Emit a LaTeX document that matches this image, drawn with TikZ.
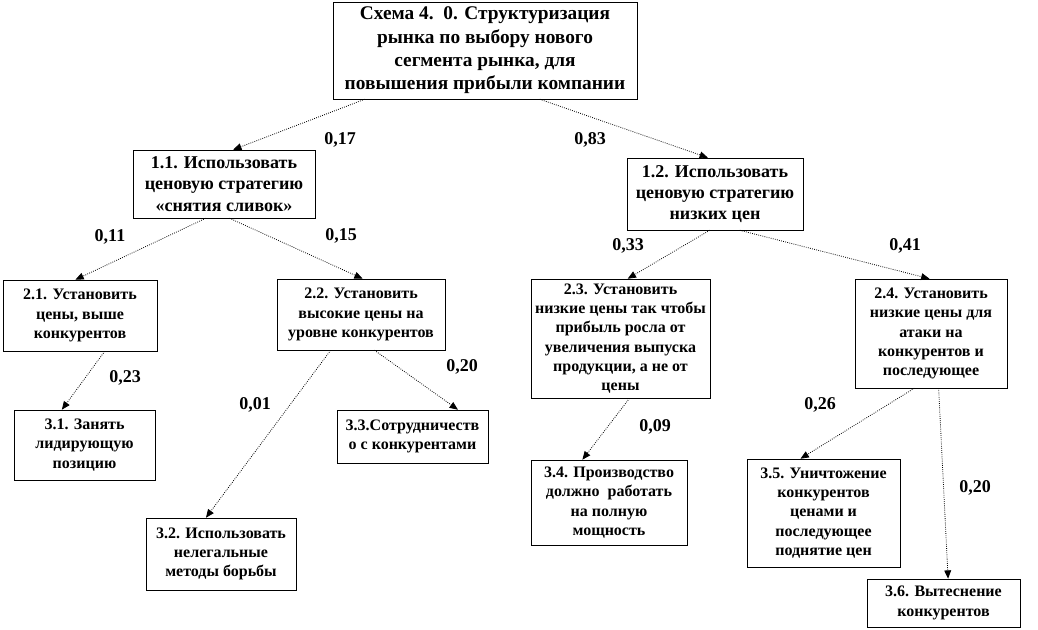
\documentclass[tikz,border=0pt]{standalone}
\usepackage{fontspec}
\setmainfont{Liberation Serif}
\usetikzlibrary{arrows.meta,calc}

\begin{document}
\begin{tikzpicture}[
  x=0.75pt, y=-0.75pt,
  block/.style={rectangle, draw, thin, fill=white, align=center,
    inner sep=0pt, font=\bfseries\fontsize{12}{14.5}\selectfont},
  top/.style={block, font=\bfseries\fontsize{14.5}{17.5}\selectfont},
  mid/.style={block, font=\bfseries\fontsize{13.5}{16}\selectfont},
  sz/.style 2 args={minimum width=#1*0.75pt, minimum height=#2*0.75pt},
  wt/.style={font=\bfseries\fontsize{13.5}{15}\selectfont, inner sep=0pt},
  arrow/.style={-{Triangle[length=2.2mm,width=1.8mm]}, densely dotted, line width=0.6pt}
]
\useasboundingbox (0,0) rectangle (1038,630);

% Title
\node[top, sz={304}{97}] (root) at (485,50.5)
  {Схема 4.\ \ 0. Структуризация\\рынка по выбору нового\\сегмента рынка, для\\повышения прибыли компании};

% Level 1
\node[mid, sz={182}{68}] (s11) at (224,184)
  {1.1. Использовать\\ценовую стратегию\\«снятия сливок»};
\node[mid, sz={176}{72}] (s12) at (715,194)
  {1.2. Использовать\\ценовую стратегию\\низких цен};

% Level 2
\node[block, sz={154}{71}] (s21) at (80,315.5)
  {2.1. Установить\\цены, выше\\конкурентов};
\node[block, sz={168}{71}] (s22) at (361,314.5)
  {2.2. Установить\\высокие цены на\\уровне конкурентов};
\node[block, sz={179}{119}] (s23) at (620.5,338.5)
  {2.3. Установить\\низкие цены так чтобы\\прибыль росла от\\увеличения выпуска\\продукции, а не от\\цены};
\node[block, sz={152}{109}] (s24) at (931,333.5)
  {2.4. Установить\\низкие цены для\\атаки на\\конкурентов и\\последующее};

% Level 3
\node[block, sz={141}{70}] (s31) at (84.5,445)
  {3.1. Занять\\лидирующую\\позицию};
\node[block, sz={150}{72}] (s32) at (221,554)
  {3.2. Использовать\\нелегальные\\методы борьбы};
\node[block, sz={151}{53}] (s33) at (412.5,436.5)
  {3.3.Сотрудничеств\\о с конкурентами};
\node[block, sz={156}{85}] (s34) at (609,502.5)
  {3.4. Производство\\должно\ \ работать\\на полную\\мощность};
\node[block, sz={153}{108}] (s35) at (823.5,513)
  {3.5. Уничтожение\\конкурентов\\ценами и\\последующее\\поднятие цен};
\node[block, sz={153}{48}] (s36) at (943.5,603)
  {3.6. Вытеснение\\конкурентов};

% Connectors
\draw[arrow] ($(root.south west)!.105!(root.south east)$) -- ($(s11.north west)!.55!(s11.north east)$);
\draw[arrow] ($(root.south west)!.68!(root.south east)$) -- ($(s12.north west)!.46!(s12.north east)$);
\draw[arrow] ($(s11.south west)!.40!(s11.south east)$) -- ($(s21.north west)!.47!(s21.north east)$);
\draw[arrow] ($(s11.south west)!.53!(s11.south east)$) -- ($(s22.north west)!.51!(s22.north east)$);
\draw[arrow] ($(s12.south west)!.47!(s12.south east)$) -- ($(s23.north west)!.54!(s23.north east)$);
\draw[arrow] ($(s12.south west)!.64!(s12.south east)$) -- ($(s24.north west)!.49!(s24.north east)$);
\draw[arrow] ($(s21.south west)!.66!(s21.south east)$) -- ($(s31.north west)!.34!(s31.north east)$);
\draw[arrow] ($(s22.south west)!.32!(s22.south east)$) -- ($(s32.north west)!.40!(s32.north east)$);
\draw[arrow] ($(s22.south west)!.58!(s22.south east)$) -- ($(s33.north west)!.80!(s33.north east)$);
\draw[arrow] ($(s23.south west)!.55!(s23.south east)$) -- ($(s34.north west)!.33!(s34.north east)$);
\draw[arrow] ($(s24.south west)!.39!(s24.south east)$) -- ($(s35.north west)!.35!(s35.north east)$);
\draw[arrow] ($(s24.south west)!.55!(s24.south east)$) -- ($(s36.north west)!.53!(s36.north east)$);

% Weights
\node[wt] (w11) at (340,140) {0,17};
\node[wt] (w12) at (590,140) {0,83};
\node[wt] (w21) at (110,237) {0,11};
\node[wt] (w22) at (341,236) {0,15};
\node[wt] (w23) at (628,246) {0,33};
\node[wt] (w24) at (905,246) {0,41};
\node[wt] (w31) at (125,378) {0,23};
\node[wt] (w32) at (255,405) {0,01};
\node[wt] (w33) at (462,367) {0,20};
\node[wt] (w34) at (655,427) {0,09};
\node[wt] (w35) at (820,405) {0,26};
\node[wt] (w36) at (975,488) {0,20};

\end{tikzpicture}
\end{document}
